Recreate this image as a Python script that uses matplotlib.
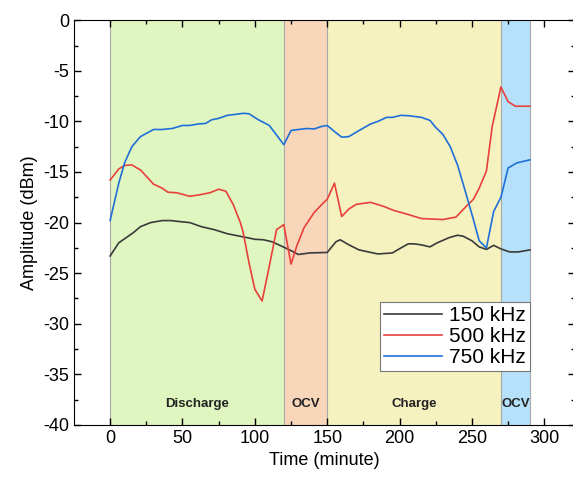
import matplotlib.pyplot as plt
import numpy as np

plt.rcParams['font.family'] = ['Liberation Sans', 'DejaVu Sans']
plt.rcParams['axes.unicode_minus'] = False

# 150 kHz
t_150 = [0, 6, 10, 16, 21, 28, 36, 42, 48, 55, 63, 72, 81, 88, 95, 100, 106, 112, 118, 124,
         130, 138, 150, 156, 159, 165, 172, 185, 195, 201, 206, 210, 215, 221, 226, 234, 240,
         244, 250, 255, 260, 265, 270, 276, 282, 290]
amp_150 = [-23.3, -22.0, -21.6, -21.0, -20.4, -20.0, -19.8, -19.8, -19.9, -20.0, -20.4, -20.7,
           -21.1, -21.3, -21.5, -21.65, -21.7, -21.9, -22.3, -22.7, -23.15, -23.0, -22.95, -21.9,
           -21.7, -22.2, -22.7, -23.1, -23.0, -22.5, -22.1, -22.1, -22.2, -22.4, -22.0, -21.5,
           -21.25, -21.35, -21.8, -22.4, -22.65, -22.25, -22.6, -22.9, -22.9, -22.7]

# 500 kHz
t_500 = [0, 6, 10, 15, 21, 30, 36, 40, 46, 55, 62, 69, 75, 80, 85, 90, 92, 96, 100, 105, 110,
         115, 120, 125, 129, 134, 141, 147, 150, 155, 160, 165, 170, 180, 189, 196, 206, 215,
         230, 239, 246, 251, 255, 260, 264, 270, 275, 280, 290]
amp_500 = [-15.8, -14.7, -14.35, -14.3, -14.8, -16.2, -16.6, -17.0, -17.05, -17.4, -17.25,
           -17.05, -16.7, -16.9, -18.2, -20.0, -21.0, -24.0, -26.6, -27.75, -24.3, -20.7, -20.2,
           -24.1, -22.3, -20.5, -19.0, -18.1, -17.7, -16.1, -19.4, -18.65, -18.2, -18.0, -18.4,
           -18.8, -19.2, -19.6, -19.7, -19.45, -18.4, -17.7, -16.6, -14.9, -10.5, -6.6, -8.05,
           -8.5, -8.5]

# 750 kHz
t_750 = [0, 6, 10, 15, 21, 30, 36, 43, 50, 55, 61, 66, 70, 75, 81, 87, 92, 96, 102, 110, 120,
         125, 130, 136, 141, 146, 150, 155, 160, 165, 172, 180, 185, 191, 195, 201, 207, 215,
         221, 225, 230, 235, 240, 245, 251, 255, 260, 265, 270, 275, 281, 290]
amp_750 = [-19.8, -16.1, -14.1, -12.5, -11.5, -10.8, -10.8, -10.7, -10.4, -10.4, -10.25, -10.2,
           -9.85, -9.7, -9.4, -9.3, -9.2, -9.25, -9.8, -10.4, -12.3, -10.9, -10.8, -10.7, -10.75,
           -10.5, -10.4, -11.0, -11.56, -11.5, -10.9, -10.25, -10.0, -9.6, -9.6, -9.4, -9.45,
           -9.6, -9.9, -10.6, -11.3, -12.5, -14.3, -16.7, -19.7, -21.8, -22.5, -18.9, -17.5,
           -14.6, -14.1, -13.8]

phases = ['Discharge', 'OCV', 'Charge', 'OCV']
phase_start = [0, 120, 150, 270]
phase_end = [120, 150, 270, 290]
phase_colors = ['#e0f6c0', '#f8d6ba', '#f5f2c0', '#b6e1fb']

fig = plt.figure(figsize=(5.73, 4.93), dpi=100)
ax = fig.add_axes([0.129, 0.138, 0.874, 0.821])

for name, s, e, c in zip(phases, phase_start, phase_end, phase_colors):
    ax.axvspan(s, e, color=c, zorder=0, lw=0)
    ax.text((s + e) / 2, -37.9, name, ha='center', va='center', fontsize=9.5,
            fontweight='bold', color='#222222')
for b in sorted(set(phase_start + phase_end)):
    ax.axvline(b, color='#a8a8a8', lw=0.8, zorder=1)

ax.plot(t_150, amp_150, color='#3a3a3a', lw=1.2, label='150 kHz')
ax.plot(t_500, amp_500, color='#e8403a', lw=1.2, label='500 kHz')
ax.plot(t_750, amp_750, color='#1f6fd8', lw=1.2, label='750 kHz')

ax.set_xlim(-25, 321)
ax.set_ylim(-40, 0)
ax.set_xticks(np.arange(0, 301, 50))
ax.set_xticks(np.arange(25, 321, 50), minor=True)
ax.set_yticks(np.arange(-40, 1, 5))
ax.set_yticks(np.arange(-37.5, 0, 5), minor=True)
ax.tick_params(which='both', direction='in', top=True, right=True, labelsize=13)
ax.tick_params(which='major', length=5, width=1)
ax.tick_params(which='minor', length=3, width=1)
ax.set_xlabel('Time (minute)', fontsize=13)
ax.set_ylabel('Amplitude (dBm)', fontsize=13)

leg = ax.legend(loc='lower right', bbox_to_anchor=(0.91, 0.133), fontsize=15,
                fancybox=False, framealpha=1, edgecolor='#777777', handlelength=2.8,
                borderpad=0.2, labelspacing=0.1, handletextpad=0.3, borderaxespad=0)
leg.get_frame().set_linewidth(0.8)

fig.savefig('out.png', dpi=100)
